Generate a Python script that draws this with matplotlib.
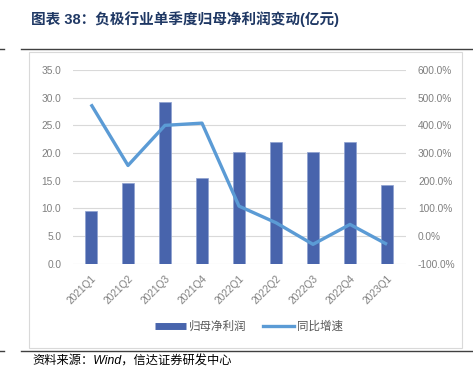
import matplotlib.pyplot as plt
import numpy as np
from matplotlib.lines import Line2D
from matplotlib.patches import Rectangle

plt.rcParams['font.family'] = ['Liberation Sans', 'Noto Sans CJK SC', 'DejaVu Sans']

# data
quarters = ['2021Q1', '2021Q2', '2021Q3', '2021Q4', '2022Q1',
            '2022Q2', '2022Q3', '2022Q4', '2023Q1']
net_profit = [9.5, 14.5, 29.2, 15.4, 20.2, 22.0, 20.2, 21.9, 14.2]
yoy_growth = [476, 255, 400, 408, 108, 48, -30, 42, -30]

bar_color = '#4864AC'
line_color = '#5B9BD5'
tick_gray = '#7F7F7F'

fig = plt.figure(figsize=(4.73, 3.76), dpi=100)

# outer frame and rules
fig.add_artist(Rectangle((29 / 473, 1 - 348 / 376), 433 / 473, 296 / 376,
                         transform=fig.transFigure, fill=False,
                         edgecolor='#D9D9D9', linewidth=0.8))
for yy in (48.5, 350.5):
    fig.add_artist(Line2D([21 / 473, 1], [1 - yy / 376] * 2, color='#404040', lw=1.0))
    fig.add_artist(Line2D([0, 4 / 473], [1 - yy / 376] * 2, color='#404040', lw=1.0))

fig.text(31 / 473, 1 - 19 / 376, '图表 38：负极行业单季度归母净利润变动(亿元)',
         fontsize=10.5, fontweight='bold', color='#1F3864', va='center')
fig.text(32 / 473, 1 - 361 / 376, '资料来源：Wind，信达证券研发中心',
         fontsize=8.8, style='italic', color='black', va='center')

ax = fig.add_axes([72.5 / 473, 1 - 263.7 / 376, 333 / 473, 193.7 / 376])
x = np.arange(len(quarters))
ax.bar(x, net_profit, width=0.31, color=bar_color, edgecolor='#8DA0D0',
       linewidth=0.5, zorder=2, label='归母净利润')
ax.set_ylim(0, 35)
ax.set_yticks(np.arange(0, 36, 5))
ax.set_yticklabels([f'{v:.1f}' for v in np.arange(0, 36, 5)])
ax.set_xlim(-0.5, len(quarters) - 0.5)
ax.set_xticks(x)
ax.set_xticklabels(quarters, rotation=45, ha='right', rotation_mode='anchor')
ax.grid(axis='y', color='#D9D9D9', linewidth=0.8, zorder=0)
ax.set_axisbelow(True)
for s in ax.spines.values():
    s.set_visible(False)
ax.tick_params(length=0, labelsize=7.3, colors=tick_gray, pad=8)
ax.tick_params(axis='x', pad=7)

ax2 = ax.twinx()
ax2.plot(x, yoy_growth, color=line_color, linewidth=2.4, zorder=3,
         solid_capstyle='butt', label='同比增速')
ax2.set_ylim(-100, 600)
ax2.set_yticks(np.arange(-100, 601, 100))
ax2.set_yticklabels([f'{v:.1f}%' for v in np.arange(-100, 601, 100)])
for s in ax2.spines.values():
    s.set_visible(False)
ax2.tick_params(length=0, labelsize=7.3, colors=tick_gray, pad=9)

handles = [Line2D([], [], color=bar_color, lw=5, solid_capstyle='butt'),
           Line2D([], [], color=line_color, lw=2.4)]
fig.legend(handles, ['归母净利润', '同比增速'], loc='center',
           bbox_to_anchor=(249 / 473, 1 - 327 / 376), ncol=2, frameon=False,
           fontsize=8.3, labelcolor='#595959', handlelength=2.7,
           columnspacing=1.4, handletextpad=0.3)

fig.savefig('out.png', dpi=100)
